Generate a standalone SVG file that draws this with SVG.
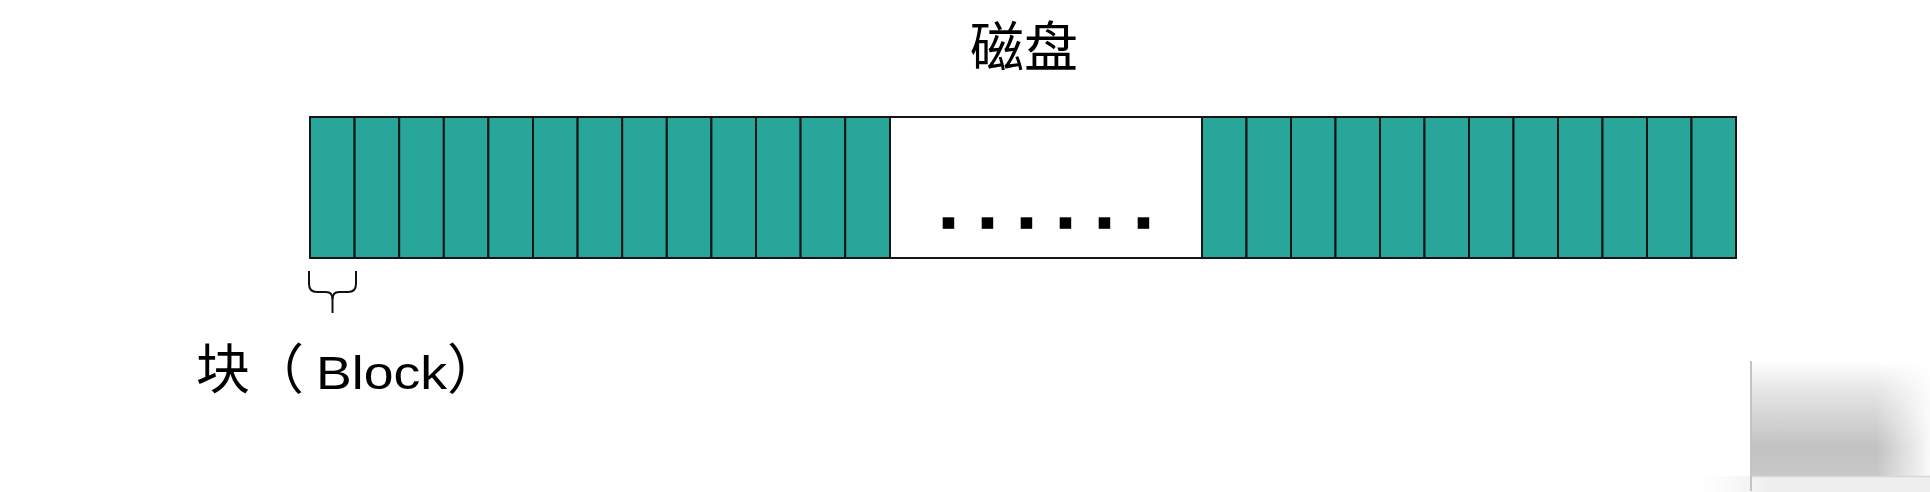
<svg xmlns="http://www.w3.org/2000/svg" width="1930" height="492" viewBox="0 0 1930 492">
  <defs>
    <style>
      .blk { fill: #27a699; stroke: #151515; stroke-width: 2; }
      .gap { fill: #ffffff; stroke: #151515; stroke-width: 2; }
      .dot { fill: #000000; }
      .txt { font-family: "Liberation Sans", "Noto Sans CJK SC", sans-serif; fill: #000000; }
      .brace { fill: none; stroke: #111111; stroke-width: 2; stroke-linecap: butt; }
    </style>
    <linearGradient id="shadeV" x1="0" y1="0" x2="0" y2="1">
      <stop offset="0" stop-color="#ffffff"/>
      <stop offset="0.25" stop-color="#e6e6e6"/>
      <stop offset="0.75" stop-color="#c2c2c2"/>
      <stop offset="1" stop-color="#c8c8c8"/>
    </linearGradient>
    <linearGradient id="fadeR" x1="0" y1="0" x2="1" y2="0">
      <stop offset="0" stop-color="#ffffff" stop-opacity="0"/>
      <stop offset="0.7" stop-color="#ffffff" stop-opacity="0"/>
      <stop offset="1" stop-color="#ffffff" stop-opacity="0.9"/>
    </linearGradient>
    <linearGradient id="bandL" x1="0" y1="0" x2="1" y2="0">
      <stop offset="0" stop-color="#f4f4f4" stop-opacity="0"/>
      <stop offset="0.3" stop-color="#eeeeee"/>
      <stop offset="1" stop-color="#eeeeee"/>
    </linearGradient>
  </defs>
  <rect x="0" y="0" width="1930" height="492" fill="#ffffff"/>

  <!-- bottom-right shading -->
  <g id="corner-shade">
    <rect x="1700" y="476" width="230" height="16" fill="url(#bandL)"/>
    <rect x="1750" y="361" width="180" height="115" fill="url(#shadeV)"/>
    <rect x="1750" y="361" width="180" height="115" fill="url(#fadeR)"/>
    <line x1="1751" y1="361" x2="1751" y2="491" stroke="#c4c4c4" stroke-width="2"/>
    <line x1="1752" y1="476.5" x2="1930" y2="476.5" stroke="#d6d6d6" stroke-width="1.5"/>
  </g>

  <g id="title">
    <text class="txt" x="1024" y="67" font-size="54" text-anchor="middle">磁盘</text>
  </g>

  <g id="disk">
    <g id="block-L01"><rect class="blk" x="310" y="117" width="44.6" height="141"/></g>
    <g id="block-L02"><rect class="blk" x="354.6" y="117" width="44.6" height="141"/></g>
    <g id="block-L03"><rect class="blk" x="399.2" y="117" width="44.6" height="141"/></g>
    <g id="block-L04"><rect class="blk" x="443.8" y="117" width="44.6" height="141"/></g>
    <g id="block-L05"><rect class="blk" x="488.4" y="117" width="44.6" height="141"/></g>
    <g id="block-L06"><rect class="blk" x="533" y="117" width="44.6" height="141"/></g>
    <g id="block-L07"><rect class="blk" x="577.6" y="117" width="44.6" height="141"/></g>
    <g id="block-L08"><rect class="blk" x="622.2" y="117" width="44.6" height="141"/></g>
    <g id="block-L09"><rect class="blk" x="666.8" y="117" width="44.6" height="141"/></g>
    <g id="block-L10"><rect class="blk" x="711.4" y="117" width="44.6" height="141"/></g>
    <g id="block-L11"><rect class="blk" x="756" y="117" width="44.6" height="141"/></g>
    <g id="block-L12"><rect class="blk" x="800.6" y="117" width="44.6" height="141"/></g>
    <g id="block-L13"><rect class="blk" x="845.2" y="117" width="44.8" height="141"/></g>

    <g id="gap">
      <rect class="gap" x="890" y="117" width="312" height="141"/>
      <rect class="dot" x="942.7" y="217.3" width="11.5" height="11.5"/>
      <rect class="dot" x="981.7" y="217.3" width="11.5" height="11.5"/>
      <rect class="dot" x="1020.7" y="217.3" width="11.5" height="11.5"/>
      <rect class="dot" x="1059.7" y="217.3" width="11.5" height="11.5"/>
      <rect class="dot" x="1098.7" y="217.3" width="11.5" height="11.5"/>
      <rect class="dot" x="1137.7" y="217.3" width="11.5" height="11.5"/>
    </g>

    <g id="block-R01"><rect class="blk" x="1202" y="117" width="44.5" height="141"/></g>
    <g id="block-R02"><rect class="blk" x="1246.5" y="117" width="44.5" height="141"/></g>
    <g id="block-R03"><rect class="blk" x="1291" y="117" width="44.5" height="141"/></g>
    <g id="block-R04"><rect class="blk" x="1335.5" y="117" width="44.5" height="141"/></g>
    <g id="block-R05"><rect class="blk" x="1380" y="117" width="44.5" height="141"/></g>
    <g id="block-R06"><rect class="blk" x="1424.5" y="117" width="44.5" height="141"/></g>
    <g id="block-R07"><rect class="blk" x="1469" y="117" width="44.5" height="141"/></g>
    <g id="block-R08"><rect class="blk" x="1513.5" y="117" width="44.5" height="141"/></g>
    <g id="block-R09"><rect class="blk" x="1558" y="117" width="44.5" height="141"/></g>
    <g id="block-R10"><rect class="blk" x="1602.5" y="117" width="44.5" height="141"/></g>
    <g id="block-R11"><rect class="blk" x="1647" y="117" width="44.5" height="141"/></g>
    <g id="block-R12"><rect class="blk" x="1691.5" y="117" width="44.5" height="141"/></g>
  </g>

  <g id="connectors">
    <path class="brace" d="M309 271 V284 Q309 292 317 292 H326 Q332.5 292 332.5 299 V313"/>
    <path class="brace" d="M356 271 V284 Q356 292 348 292 H339 Q332.5 292 332.5 299"/>
  </g>

  <g id="block-label">
    <text class="txt" y="389"><tspan x="196" font-size="54">块（</tspan><tspan x="316" font-size="46" textLength="131" lengthAdjust="spacingAndGlyphs">Block</tspan><tspan font-size="54">）</tspan></text>
  </g>
</svg>
